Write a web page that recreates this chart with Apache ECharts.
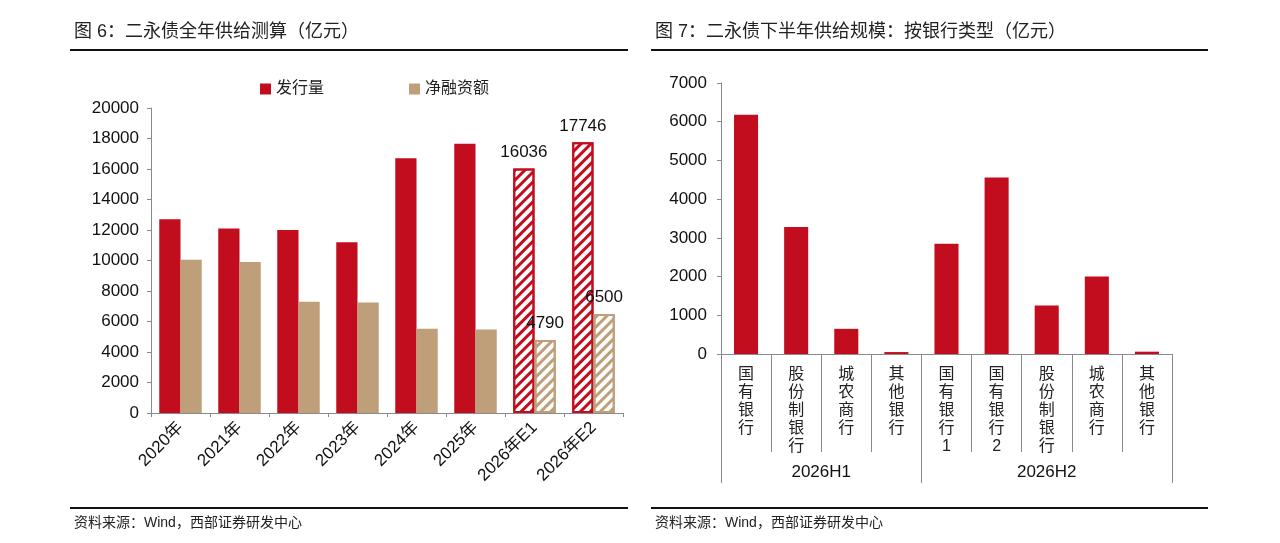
<!DOCTYPE html>
<html>
<head>
<meta charset="UTF-8">
<title>二永债供给测算</title>
<script src="https://cdn.jsdelivr.net/npm/echarts@6/dist/echarts.min.js"></script>
<style>
  html, body { margin: 0; padding: 0; background: #fff; }
  #main { width: 1280px; height: 543px; }
</style>
</head>
<body>
<div id="main"></div>
<script>
// 图6：二永债全年供给测算
var years = ['2020年', '2021年', '2022年', '2023年', '2024年', '2025年', '2026年E1', '2026年E2'];
var issueAmt = [12700, 12100, 12000, 11200, 16700, 17650, 16036, 17746];
var netAmt = [10050, 9900, 7300, 7250, 5530, 5480, 4790, 6500];
var isEstimate = [false, false, false, false, false, false, true, true];

// 图7：二永债下半年供给规模（按银行类型）
var bankTypes = ['国有银行', '股份制银行', '城农商行', '其他银行', '国有银行1', '国有银行2', '股份制银行', '城农商行', '其他银行'];
var bankSupply = [6180, 3280, 650, 50, 2850, 4560, 1250, 2000, 60];
var halfNames = ['2026H1', '2026H2'];
var halfSizes = [4, 5];

var RED = '#C10D1E', TAN = '#BE9F7A', AXIS = '#8a8a8a';
var FONT = "'Liberation Sans', 'Noto Sans CJK SC', sans-serif";

// 分组边界和中点
var bounds = [0], centers = [];
halfSizes.forEach(function (n) {
    var s = bounds[bounds.length - 1];
    centers.push(s + n / 2);
    bounds.push(s + n);
});

function hatch(c) {
    return {
        color: '#fff', borderColor: c, borderWidth: 2,
        decal: { symbol: 'rect', dashArrayX: [1, 0], dashArrayY: [3, 4], rotation: -Math.PI / 4, color: c }
    };
}

function plain(v) { return String(v); }

var valLabel = { show: true, position: 'top', distance: 8, color: '#111', fontSize: 17, fontFamily: FONT };

var myChart = echarts.init(document.getElementById('main'));

var option = {
    animation: false,
    textStyle: { fontFamily: FONT },
    title: [
        { text: '图 6：二永债全年供给测算（亿元）', left: 74, top: 23, padding: 0,
          textStyle: { fontSize: 18, fontWeight: 'normal', color: '#222' } },
        { text: '图 7：二永债下半年供给规模：按银行类型（亿元）', left: 655, top: 23, padding: 0,
          textStyle: { fontSize: 18, fontWeight: 'normal', color: '#222' } },
        { text: '资料来源：Wind，西部证券研发中心', left: 74, top: 516, padding: 0,
          textStyle: { fontSize: 14, fontWeight: 'normal', color: '#222' } },
        { text: '资料来源：Wind，西部证券研发中心', left: 655, top: 516, padding: 0,
          textStyle: { fontSize: 14, fontWeight: 'normal', color: '#222' } }
    ],
    graphic: [
        { type: 'line', shape: { x1: 70, y1: 50, x2: 628, y2: 50 }, style: { stroke: '#111', lineWidth: 2 } },
        { type: 'line', shape: { x1: 651, y1: 50, x2: 1208, y2: 50 }, style: { stroke: '#111', lineWidth: 2 } },
        { type: 'line', shape: { x1: 70, y1: 508, x2: 628, y2: 508 }, style: { stroke: '#111', lineWidth: 2 } },
        { type: 'line', shape: { x1: 651, y1: 508, x2: 1208, y2: 508 }, style: { stroke: '#111', lineWidth: 2 } }
    ],
    legend: {
        data: ['发行量', '净融资额'],
        left: 255, top: 76,
        icon: 'rect', itemWidth: 11, itemHeight: 11, itemGap: 85,
        textStyle: { fontSize: 16, color: '#222' }
    },
    grid: [
        { left: 151, top: 108, width: 472, height: 305 },
        { left: 721, top: 83, width: 451, height: 271 }
    ],
    xAxis: [
        {
            type: 'category', gridIndex: 0, data: years,
            axisLine: { lineStyle: { color: AXIS } },
            axisTick: { show: true, length: 4, lineStyle: { color: AXIS } },
            axisLabel: { rotate: 45, interval: 0, margin: 12, fontSize: 17, color: '#111' }
        },
        {
            type: 'category', gridIndex: 1, data: bankTypes,
            axisLine: { lineStyle: { color: AXIS } },
            axisTick: { show: true, interval: 0, length: 98, lineStyle: { color: AXIS } },
            axisLabel: {
                interval: 0, margin: 12, fontSize: 16, lineHeight: 18, color: '#222',
                formatter: function (v) { return v.split('').join('\n'); }
            }
        },
        {
            type: 'value', gridIndex: 1, position: 'bottom', min: 0, max: bankTypes.length,
            axisLine: { show: false },
            splitLine: { show: false },
            axisTick: { show: true, customValues: bounds, length: 129, lineStyle: { color: AXIS } },
            axisLabel: {
                customValues: centers, margin: 110, fontSize: 17, color: '#111',
                formatter: function (v) { return halfNames[centers.indexOf(v)] || ''; }
            }
        }
    ],
    yAxis: [
        {
            type: 'value', gridIndex: 0, min: 0, max: 20000, interval: 2000,
            axisLine: { show: true, lineStyle: { color: AXIS } },
            axisTick: { show: true, length: 4, lineStyle: { color: AXIS } },
            axisLabel: { margin: 12, fontSize: 17, color: '#111', formatter: plain },
            splitLine: { show: false }
        },
        {
            type: 'value', gridIndex: 1, min: 0, max: 7000, interval: 1000,
            axisLine: { show: true, lineStyle: { color: AXIS } },
            axisTick: { show: true, length: 4, lineStyle: { color: AXIS } },
            axisLabel: { margin: 14, fontSize: 17, color: '#111', formatter: plain },
            splitLine: { show: false }
        }
    ],
    series: [
        {
            name: '发行量', type: 'bar', xAxisIndex: 0, yAxisIndex: 0,
            barWidth: '36%', barGap: '0%',
            itemStyle: { color: RED },
            data: issueAmt.map(function (v, i) {
                return isEstimate[i] ? { value: v, itemStyle: hatch(RED), label: valLabel } : v;
            })
        },
        {
            name: '净融资额', type: 'bar', xAxisIndex: 0, yAxisIndex: 0,
            barWidth: '36%', barGap: '0%',
            itemStyle: { color: TAN },
            data: netAmt.map(function (v, i) {
                return isEstimate[i] ? { value: v, itemStyle: hatch(TAN), label: valLabel } : v;
            })
        },
        {
            name: '供给规模', type: 'bar', xAxisIndex: 1, yAxisIndex: 1,
            barWidth: '48%',
            itemStyle: { color: RED },
            data: bankSupply
        }
    ]
};

myChart.setOption(option);
</script>
</body>
</html>
